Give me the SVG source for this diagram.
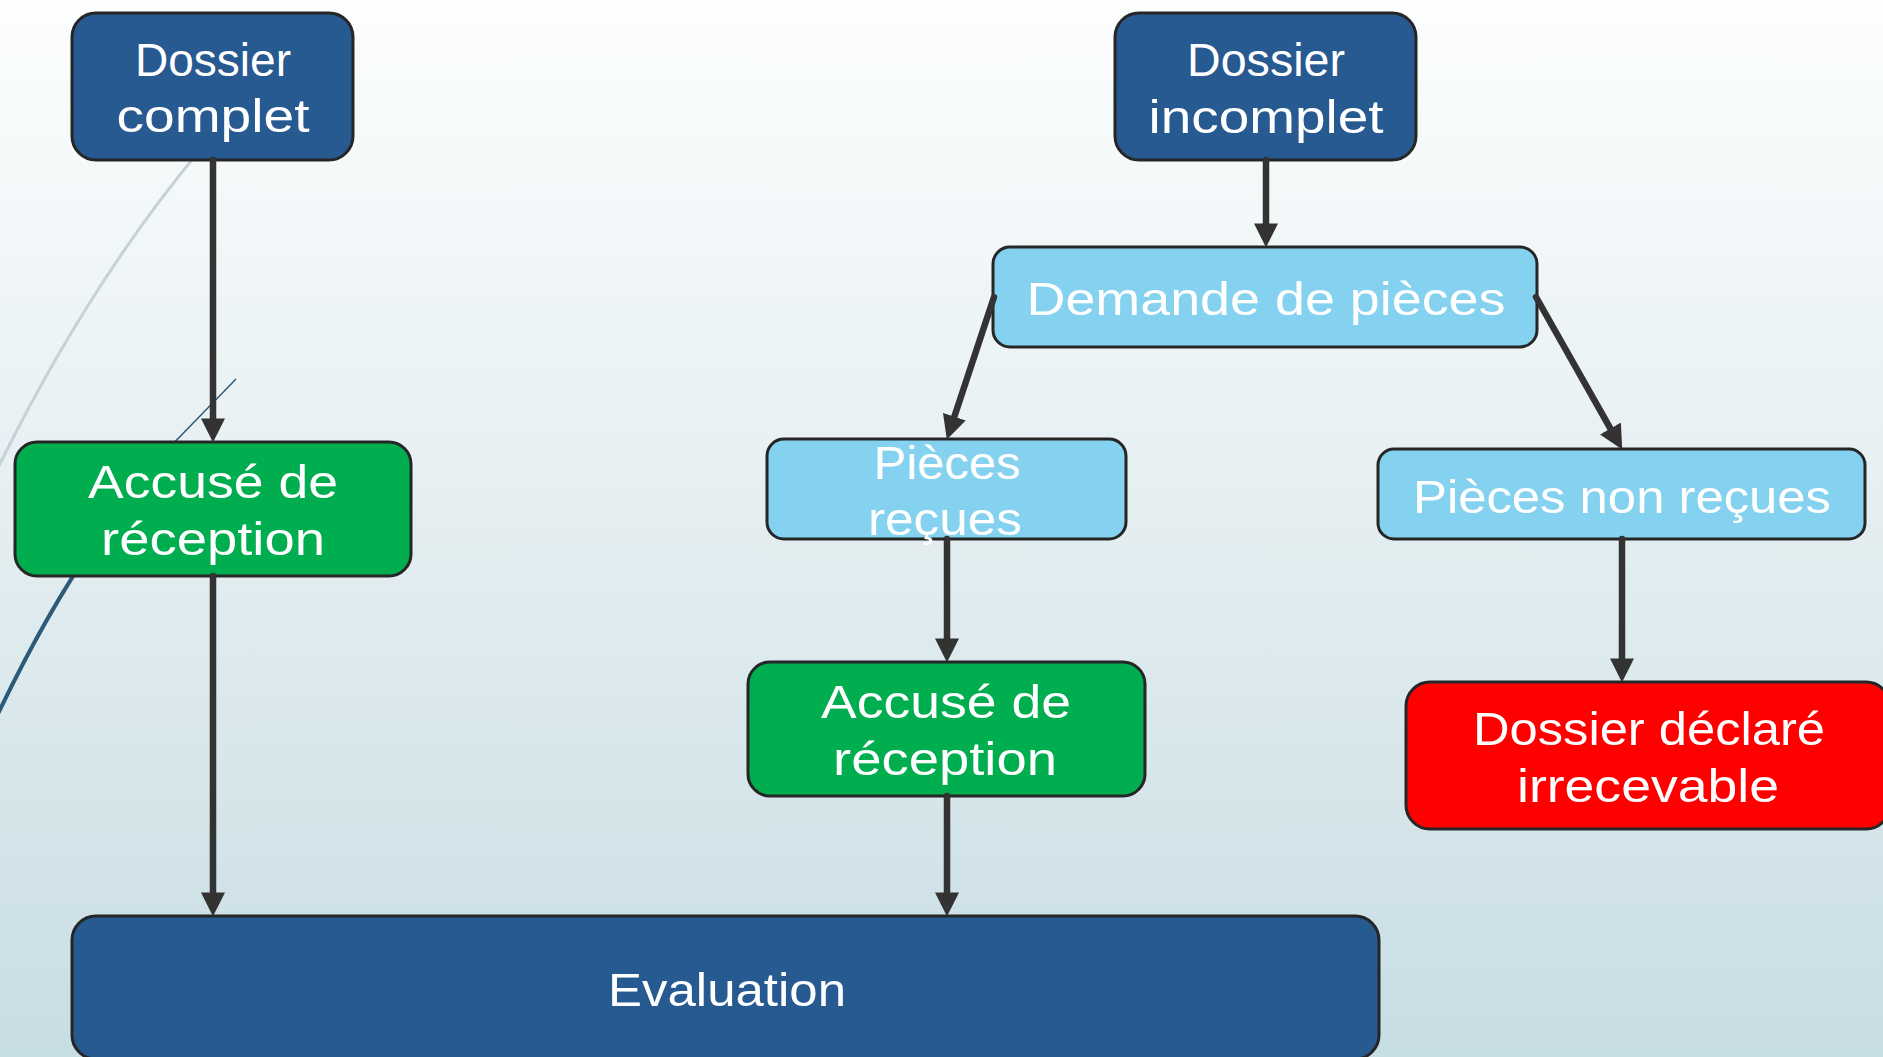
<svg xmlns="http://www.w3.org/2000/svg" width="1883" height="1057" viewBox="0 0 1883 1057">
<defs>
<linearGradient id="bg" x1="0" y1="0" x2="0" y2="1">
<stop offset="0" stop-color="#fdfefe"/>
<stop offset="0.5" stop-color="#e4eef1"/>
<stop offset="1" stop-color="#c7dde4"/>
</linearGradient>
<marker id="arr" markerUnits="userSpaceOnUse" markerWidth="24" markerHeight="24" refX="13" refY="11.5" orient="auto" viewBox="0 0 23 23">
<path d="M0,0 L23,11.5 L0,23 z" fill="#333333"/>
</marker>
<style>
.box{stroke:#262626;stroke-width:3}
.dark{fill:#275a91}
.green{fill:#00ae50}
.light{fill:#84d2ef}
.red{fill:#ff0000}
.t{font-family:"Liberation Sans",Arial,sans-serif;font-size:47px;fill:#ffffff;text-anchor:middle}
.c{stroke:#333333;stroke-width:6.5;fill:none;stroke-linecap:round;marker-end:url(#arr)}
</style>
</defs>
<rect x="0" y="0" width="1883" height="1057" fill="url(#bg)"/>
<g id="decor" fill="none">
<path d="M200,150 Q85,288 -8,480" stroke="#c5d2d8" stroke-width="3"/>
<path d="M236,379 L165,452" stroke="#2d5a78" stroke-width="1.5"/>
<path d="M95,543 Q45,615 -4,718" stroke="#2d5a78" stroke-width="4"/>
</g>
<g id="node-dossier-complet">
<rect class="box dark" x="72" y="13" width="281" height="147" rx="24"/>
<text class="t" x="213" y="76" textLength="156" lengthAdjust="spacingAndGlyphs">Dossier</text>
<text class="t" x="213" y="132" textLength="193" lengthAdjust="spacingAndGlyphs">complet</text>
</g>
<g id="node-dossier-incomplet">
<rect class="box dark" x="1115" y="13" width="301" height="147" rx="24"/>
<text class="t" x="1266" y="76" textLength="158" lengthAdjust="spacingAndGlyphs">Dossier</text>
<text class="t" x="1266" y="133" textLength="235" lengthAdjust="spacingAndGlyphs">incomplet</text>
</g>
<g id="node-demande">
<rect class="box light" x="993" y="247" width="544" height="100" rx="17"/>
<text class="t" x="1266" y="315" textLength="479" lengthAdjust="spacingAndGlyphs">Demande de pièces</text>
</g>
<g id="node-accuse-1">
<rect class="box green" x="15" y="442" width="396" height="134" rx="22"/>
<text class="t" x="213" y="498" textLength="250" lengthAdjust="spacingAndGlyphs">Accusé de</text>
<text class="t" x="213" y="555" textLength="224" lengthAdjust="spacingAndGlyphs">réception</text>
</g>
<g id="node-pieces-recues">
<rect class="box light" x="767" y="439" width="359" height="100" rx="17"/>
<text class="t" x="947" y="479" textLength="147" lengthAdjust="spacingAndGlyphs">Pièces</text>
<text class="t" x="945" y="535" textLength="154" lengthAdjust="spacingAndGlyphs">reçues</text>
</g>
<g id="node-pieces-non-recues">
<rect class="box light" x="1378" y="449" width="487" height="90" rx="16"/>
<text class="t" x="1622" y="513" textLength="418" lengthAdjust="spacingAndGlyphs">Pièces non reçues</text>
</g>
<g id="node-accuse-2">
<rect class="box green" x="748" y="662" width="397" height="134" rx="22"/>
<text class="t" x="946" y="718" textLength="250" lengthAdjust="spacingAndGlyphs">Accusé de</text>
<text class="t" x="945" y="775" textLength="224" lengthAdjust="spacingAndGlyphs">réception</text>
</g>
<g id="node-irrecevable">
<rect class="box red" x="1406" y="682" width="484" height="147" rx="24"/>
<text class="t" x="1649" y="745" textLength="352" lengthAdjust="spacingAndGlyphs">Dossier déclaré</text>
<text class="t" x="1648" y="802" textLength="262" lengthAdjust="spacingAndGlyphs">irrecevable</text>
</g>
<g id="node-evaluation">
<rect class="box dark" x="72" y="916" width="1307" height="143" rx="24"/>
<text class="t" x="727" y="1006" textLength="238" lengthAdjust="spacingAndGlyphs">Evaluation</text>
</g>
<g id="connectors">
<line class="c" x1="213" y1="160" x2="213" y2="432"/>
<line class="c" x1="213" y1="576" x2="213" y2="906"/>
<line class="c" x1="1266" y1="160" x2="1266" y2="237"/>
<line class="c" x1="994" y1="297" x2="950.1" y2="429.5"/>
<line class="c" x1="1536" y1="297" x2="1617.1" y2="440.3"/>
<line class="c" x1="947" y1="539" x2="947" y2="652"/>
<line class="c" x1="947" y1="796" x2="947" y2="906"/>
<line class="c" x1="1622" y1="539" x2="1622" y2="672"/>
</g>
</svg>
